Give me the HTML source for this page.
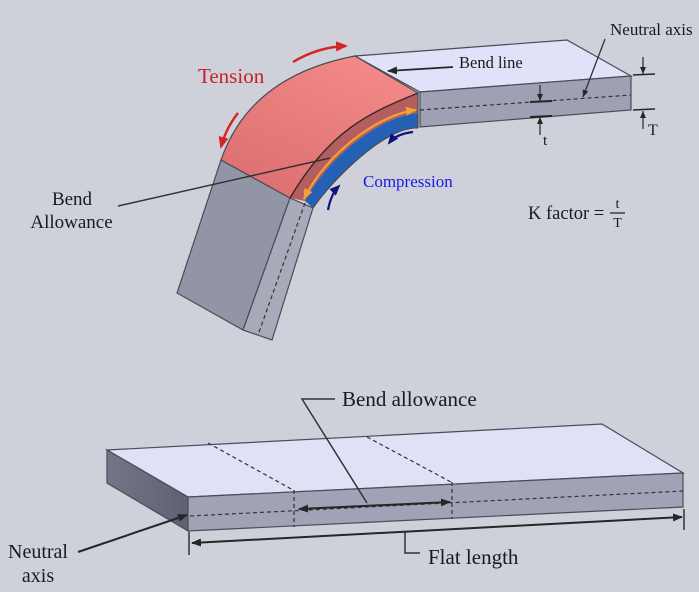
<!DOCTYPE html>
<html><head><meta charset="utf-8">
<style>
html,body{margin:0;padding:0;background:#ced1d9;}
svg{display:block;}
text{font-family:"Liberation Serif",serif;fill:#1a1a1a;}
</style></head><body>
<svg width="699" height="592" viewBox="0 0 699 592" xmlns="http://www.w3.org/2000/svg">
<defs>
<linearGradient id="redTop" x1="0.8" y1="0" x2="0.2" y2="1">
<stop offset="0" stop-color="#f48a8a"/><stop offset="1" stop-color="#dc6f70"/>
</linearGradient>
<linearGradient id="leftEnd" x1="0" y1="0" x2="1" y2="0">
<stop offset="0" stop-color="#747688"/><stop offset="1" stop-color="#5f6172"/>
</linearGradient>
<marker id="dk" markerWidth="10" markerHeight="8" refX="9" refY="4" orient="auto-start-reverse" markerUnits="userSpaceOnUse"><path d="M0,0 L10,4 L0,8 z" fill="#262626"/></marker>
<marker id="sm" markerWidth="7" markerHeight="6" refX="7" refY="3" orient="auto" markerUnits="userSpaceOnUse"><path d="M0,0 L7,3 L0,6 z" fill="#262626"/></marker>
<marker id="rd" markerWidth="12" markerHeight="10" refX="10" refY="5" orient="auto" markerUnits="userSpaceOnUse"><path d="M0,0 L12,5 L0,10 z" fill="#d42525"/></marker>
<marker id="bl" markerWidth="11" markerHeight="9" refX="9" refY="4.5" orient="auto" markerUnits="userSpaceOnUse"><path d="M0,0 L11,4.5 L0,9 z" fill="#10107e"/></marker>
<marker id="or" markerWidth="11" markerHeight="9" refX="10" refY="4.5" orient="auto-start-reverse" markerUnits="userSpaceOnUse"><path d="M0,0 L11,4.5 L0,9 z" fill="#f5a033"/></marker>
</defs>
<rect width="699" height="592" fill="#ced1d9"/>

<!-- Upper flat portion -->
<polygon points="355,56 567,40 631,76 420,92" fill="#dfe2f8" stroke="#4a4b57" stroke-width="1.2"/>
<polygon points="420,92 631,76 631,110 420,127" fill="#9ea1b3" stroke="#4a4b57" stroke-width="1.2"/>
<line x1="420" y1="110" x2="631" y2="95" stroke="#333" stroke-width="1.2" stroke-dasharray="4,3"/>

<!-- Lower leg -->
<polygon points="221,160 290,198 243,330 177,293" fill="#9295a6" stroke="#4a4b57" stroke-width="1.2"/>
<polygon points="290,198 313,208 272,340 243,330" fill="#a7aab9" stroke="#4a4b57" stroke-width="1.2"/>
<line x1="305" y1="203" x2="258" y2="335" stroke="#333" stroke-width="1.2" stroke-dasharray="4,3"/>

<!-- Bend -->
<path d="M221,160 Q250,76 355,56 L418,93 C369,113 330,130 290,198 Z" fill="url(#redTop)" stroke="#4a4b57" stroke-width="1.2"/>
<path d="M418,93 C369,113 330,130 290,198 L305,201 C329,155 382,116 418,113 Z" fill="#b55e5f" stroke="none"/>
<path d="M418,113 C382,116 329,155 305,201 L313,208 C333,179 386,126 418,128 Z" fill="#2461b5" stroke="none"/>
<path d="M418,93 C369,113 330,130 290,198" fill="none" stroke="#3a2a2a" stroke-width="1.4"/>
<path d="M418,128 C386,126 333,179 313,208" fill="none" stroke="#4a4b57" stroke-width="1.2"/>
<line x1="418" y1="92" x2="418" y2="128" stroke="#4a4b57" stroke-width="1.2"/>

<!-- Orange double arrow -->
<path d="M416,110 C380,114 327,152 304,199" fill="none" stroke="#f5a033" stroke-width="2.2" marker-start="url(#or)" marker-end="url(#or)"/>

<!-- Red tension arrows -->
<path d="M293,62 Q318,47 346,46" fill="none" stroke="#d42525" stroke-width="2.4" marker-end="url(#rd)"/>
<path d="M238,113 Q226,128 221,147" fill="none" stroke="#d42525" stroke-width="2.4" marker-end="url(#rd)"/>

<!-- Blue compression arrows -->
<path d="M413,132 Q396,134 389,143" fill="none" stroke="#10107e" stroke-width="2.2" marker-end="url(#bl)"/>
<path d="M328,210 Q331,194 339,186" fill="none" stroke="#10107e" stroke-width="2.2" marker-end="url(#bl)"/>

<!-- Labels upper -->
<text x="198" y="83" font-size="21" style="fill:#c8202a">Tension</text>
<text x="363" y="187" font-size="17" style="fill:#1a1ae6">Compression</text>
<text x="459" y="68" font-size="16.5">Bend line</text>
<line x1="453" y1="67" x2="388" y2="71" stroke="#262626" stroke-width="1.8" marker-end="url(#dk)"/>
<text x="610" y="35" font-size="17">Neutral axis</text>
<line x1="605" y1="39" x2="583" y2="97" stroke="#333" stroke-width="1.3" marker-end="url(#sm)"/>

<!-- Bend Allowance label -->
<text x="72" y="205" font-size="19" text-anchor="middle">Bend</text>
<text x="71.5" y="228" font-size="19" text-anchor="middle">Allowance</text>
<line x1="118" y1="206" x2="330" y2="158" stroke="#333" stroke-width="1.5"/>

<!-- T dimension -->
<line x1="633" y1="75" x2="655" y2="74" stroke="#262626" stroke-width="1.5"/>
<line x1="633" y1="110" x2="655" y2="109" stroke="#262626" stroke-width="1.5"/>
<line x1="643" y1="57" x2="643" y2="74" stroke="#262626" stroke-width="1.2" marker-end="url(#sm)"/>
<line x1="643" y1="129" x2="643" y2="111" stroke="#262626" stroke-width="1.2" marker-end="url(#sm)"/>
<text x="648" y="135" font-size="16">T</text>

<!-- t dimension -->
<line x1="530" y1="102" x2="552" y2="101" stroke="#262626" stroke-width="2"/>
<line x1="530" y1="117" x2="552" y2="116" stroke="#262626" stroke-width="2"/>
<line x1="540" y1="85" x2="540" y2="101" stroke="#262626" stroke-width="1.2" marker-end="url(#sm)"/>
<line x1="540" y1="135" x2="540" y2="117" stroke="#262626" stroke-width="1.2" marker-end="url(#sm)"/>
<text x="543" y="145" font-size="15">t</text>

<!-- K factor -->
<text x="528" y="219" font-size="18.5">K factor =</text>
<text x="617.5" y="208" font-size="14" text-anchor="middle">t</text>
<line x1="610" y1="213" x2="625" y2="213" stroke="#1a1a1a" stroke-width="1.2"/>
<text x="617.5" y="227" font-size="14" text-anchor="middle">T</text>

<!-- Bottom flat plate -->
<polygon points="107,450 602,424 683,473 188,497" fill="#dfe1f7" stroke="#4a4b57" stroke-width="1.2"/>
<polygon points="107,450 188,497 188,531 107,483" fill="url(#leftEnd)" stroke="#4a4b57" stroke-width="1.2"/>
<polygon points="188,497 683,473 683,507 188,531" fill="#a0a3b5" stroke="#4a4b57" stroke-width="1.2"/>
<line x1="208" y1="443" x2="293" y2="490" stroke="#333" stroke-width="1.2" stroke-dasharray="4,3"/>
<line x1="367" y1="437" x2="451" y2="482" stroke="#333" stroke-width="1.2" stroke-dasharray="4,3"/>
<line x1="294" y1="490" x2="294" y2="527" stroke="#333" stroke-width="1.2" stroke-dasharray="4,3"/>
<line x1="452" y1="482" x2="452" y2="519" stroke="#333" stroke-width="1.2" stroke-dasharray="4,3"/>
<line x1="190" y1="516" x2="683" y2="491" stroke="#333" stroke-width="1.2" stroke-dasharray="4,3"/>

<!-- Bend allowance arrow -->
<line x1="299" y1="509" x2="450" y2="502" stroke="#262626" stroke-width="2" marker-start="url(#dk)" marker-end="url(#dk)"/>
<polyline points="367,503 302,399 335,399" fill="none" stroke="#333" stroke-width="1.5"/>
<text x="342" y="406" font-size="21">Bend allowance</text>

<!-- Flat length -->
<line x1="189" y1="532" x2="189" y2="555" stroke="#333" stroke-width="1.5"/>
<line x1="684" y1="509" x2="684" y2="530" stroke="#333" stroke-width="1.5"/>
<line x1="192" y1="543" x2="682" y2="517" stroke="#262626" stroke-width="2" marker-start="url(#dk)" marker-end="url(#dk)"/>
<polyline points="405,531 405,553 420,553" fill="none" stroke="#333" stroke-width="1.5"/>
<text x="428" y="564" font-size="21">Flat length</text>

<!-- Neutral axis bottom -->
<line x1="78" y1="552" x2="187" y2="515" stroke="#262626" stroke-width="2" marker-end="url(#dk)"/>
<text x="38" y="558" font-size="20" text-anchor="middle">Neutral</text>
<text x="38" y="582" font-size="20" text-anchor="middle">axis</text>
</svg>
</body></html>
